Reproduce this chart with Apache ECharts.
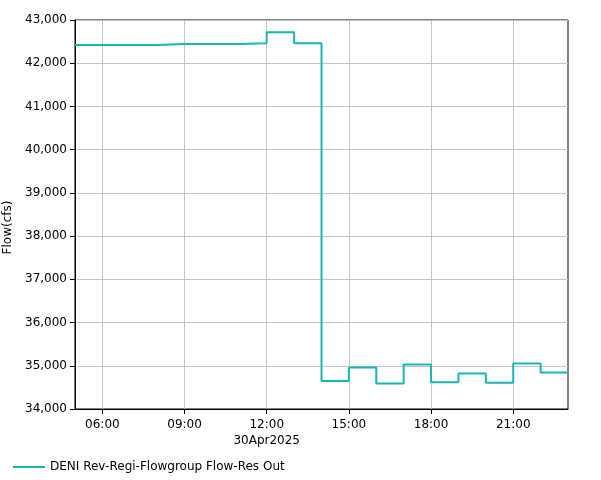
<!DOCTYPE html>
<html><head><meta charset="utf-8">
<script src="https://cdn.jsdelivr.net/npm/echarts@6/dist/echarts.min.js"></script>
<style>html,body{margin:0;padding:0;background:#fff}#c{width:601px;height:480px}</style>
</head><body><div id="c"></div>
<script>
const seriesName = 'DENI Rev-Regi-Flowgroup Flow-Res Out';
const times = ['05:00','06:00','07:00','08:00','09:00','10:00','11:00','12:00','13:00','14:00','15:00','16:00','17:00','18:00','19:00','20:00','21:00','22:00','23:00'];
const flows = [42420,42420,42420,42445,42445,42445,42460,42715,42460,34650,34960,34590,35030,34620,34820,34610,35050,34845,34845];
const xTickHours = [6,9,12,15,18,21];
const dateLabel = '30Apr2025';
const yTicks = [34000,35000,36000,37000,38000,39000,40000,41000,42000,43000];

const toHour = s => { const p = s.split(':'); return +p[0] + (+p[1])/60; };
const data = times.map((t,i)=>[toHour(t), flows[i]]);
const pad = n => (n<10?'0':'')+n;

const chart = echarts.init(document.getElementById('c'));
const font = 'DejaVu Sans';
chart.setOption({
  animation:false,
  textStyle:{fontFamily:font},
  grid:{left:75,right:33,top:20,bottom:71,show:true,borderColor:'#000',borderWidth:1,
    containLabel:false,outerBoundsMode:'none'},
  legend:{left:8,top:456,icon:'rect',itemWidth:32,itemHeight:2,itemGap:10,
    textStyle:{fontFamily:font,fontSize:12,color:'#000'},data:[seriesName]},
  xAxis:{type:'value',min:toHour(times[0]),max:toHour(times[times.length-1]),
    axisLine:{show:true,lineStyle:{color:'#000'}},
    axisTick:{show:true,length:5,lineStyle:{color:'#000'},customValues:xTickHours},
    axisLabel:{customValues:xTickHours,color:'#000',fontFamily:font,fontSize:12,margin:8,lineHeight:16,
      formatter:v=>{const s=pad(Math.round(v))+':00';return Math.round(v)===12?s+'\n'+dateLabel:s;}},
    splitLine:{show:true,lineStyle:{color:'#c4c4c4',width:1}}},
  yAxis:{type:'value',min:yTicks[0],max:yTicks[yTicks.length-1],interval:1000,
    name:'Flow(cfs)',nameLocation:'middle',nameGap:60,nameRotate:90,
    nameTextStyle:{fontFamily:font,fontSize:12,color:'#000',padding:[0,26,0,0]},
    axisLine:{show:true,lineStyle:{color:'#000'}},
    axisTick:{show:true,length:5,lineStyle:{color:'#000'}},
    axisLabel:{color:'#000',fontFamily:font,fontSize:12,margin:8,
      formatter:v=>v.toLocaleString('en-US')},
    splitLine:{show:true,lineStyle:{color:'#c4c4c4',width:1}}},
  series:[{name:seriesName,type:'line',step:'end',data:data,showSymbol:false,
    lineStyle:{color:'#1bb5b5',width:2},itemStyle:{color:'#1bb5b5'}}]
});
</script></body></html>
